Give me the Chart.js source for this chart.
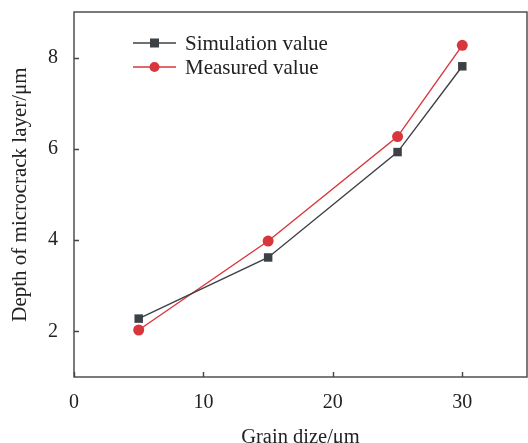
<!DOCTYPE html>
<html>
<head>
<meta charset="utf-8">
<script src="https://cdn.jsdelivr.net/npm/chart.js@4"></script>
<style>
  html, body { margin: 0; padding: 0; background: #fff; }
  #wrap { width: 528px; height: 443px; }
</style>
</head>
<body>
<div id="wrap"><canvas id="chart" width="528" height="443"></canvas></div>
<script>
// Grain size (µm) on x, depth of microcrack layer (µm) on y
const grainSizes = [5, 15, 25, 30];
const simulationValues = [2.28, 3.62, 5.93, 7.81];
const measuredValues = [2.03, 3.98, 6.27, 8.27];
const xTicks = [0, 10, 20, 30];
const yTicks = [2, 4, 6, 8];

const FONT = '"Liberation Serif", "Times New Roman", serif';
const AXIS = '#444444';

function toPoints(xs, ys) {
  return xs.map((x, i) => ({ x: x, y: ys[i] }));
}

// frame, inward ticks and in-plot legend
const framePlugin = {
  id: 'frame',
  afterDraw(chart) {
    const ctx = chart.ctx;
    const a = chart.chartArea;
    const xs = chart.scales.x, ys = chart.scales.y;
    ctx.save();
    ctx.strokeStyle = AXIS;
    ctx.lineWidth = 1.4;
    ctx.strokeRect(a.left, a.top, a.right - a.left, a.bottom - a.top);
    ctx.beginPath();
    xTicks.forEach(v => {
      const px = Math.round(xs.getPixelForValue(v)) + 0.5;
      ctx.moveTo(px, a.bottom);
      ctx.lineTo(px, a.bottom - 5);
    });
    yTicks.forEach(v => {
      const py = Math.round(ys.getPixelForValue(v)) + 0.5;
      ctx.moveTo(a.left, py);
      ctx.lineTo(a.left + 5, py);
    });
    ctx.stroke();

    // legend
    ctx.font = '21px ' + FONT;
    ctx.textBaseline = 'middle';
    chart.data.datasets.forEach((ds, i) => {
      const y = 43 + i * 24;
      ctx.strokeStyle = ds.borderColor;
      ctx.lineWidth = 1.4;
      ctx.beginPath();
      ctx.moveTo(133, y);
      ctx.lineTo(176, y);
      ctx.stroke();
      ctx.fillStyle = ds.pointBackgroundColor;
      if (ds.pointStyle === 'rect') {
        ctx.fillRect(150, y - 4.5, 9, 9);
      } else {
        ctx.beginPath();
        ctx.arc(154.5, y, 5, 0, Math.PI * 2);
        ctx.fill();
      }
      ctx.fillStyle = '#222';
      ctx.fillText(ds.label, 185, y + 1);
    });
    ctx.restore();
  }
};

new Chart(document.getElementById('chart'), {
  type: 'line',
  data: {
    datasets: [{
      label: 'Simulation value',
      data: toPoints(grainSizes, simulationValues),
      borderColor: '#3c4146',
      backgroundColor: '#3c4146',
      pointBackgroundColor: '#3c4146',
      pointBorderWidth: 0,
      pointStyle: 'rect',
      pointRadius: 6,
      borderWidth: 1.4,
      tension: 0
    }, {
      label: 'Measured value',
      data: toPoints(grainSizes, measuredValues),
      borderColor: '#d8363d',
      backgroundColor: '#d8363d',
      pointBackgroundColor: '#d8363d',
      pointBorderWidth: 0,
      pointStyle: 'circle',
      pointRadius: 5.5,
      borderWidth: 1.4,
      tension: 0
    }]
  },
  options: {
    responsive: false,
    animation: false,
    layout: { autoPadding: false, padding: { top: 12, right: 1, left: 0, bottom: 0 } },
    plugins: { legend: { display: false }, tooltip: { enabled: false } },
    scales: {
      x: {
        type: 'linear',
        min: 0, max: 35,
        afterBuildTicks: s => { s.ticks = xTicks.map(v => ({ value: v })); },
        afterFit: s => { s.height = 66; s.paddingLeft = 0; s.paddingRight = 0; },
        grid: { display: false, drawTicks: false },
        border: { display: false },
        ticks: { color: '#222', font: { family: FONT, size: 20 }, padding: 14 },
        title: { display: true, text: 'Grain dize/μm', color: '#222', font: { family: FONT, size: 20.5 }, padding: { top: 4, bottom: -7 } }
      },
      y: {
        type: 'linear',
        min: 1, max: 9,
        afterBuildTicks: s => { s.ticks = yTicks.map(v => ({ value: v })); },
        afterFit: s => { s.width = 74; s.paddingTop = 0; s.paddingBottom = 0; },
        grid: { display: false, drawTicks: false },
        border: { display: false },
        ticks: { color: '#222', font: { family: FONT, size: 20 }, padding: 16 },
        title: { display: true, text: 'Depth of microcrack layer/μm', color: '#222', font: { family: FONT, size: 21 }, padding: { top: 8, bottom: 0 } }
      }
    }
  },
  plugins: [framePlugin]
});
</script>
</body>
</html>
